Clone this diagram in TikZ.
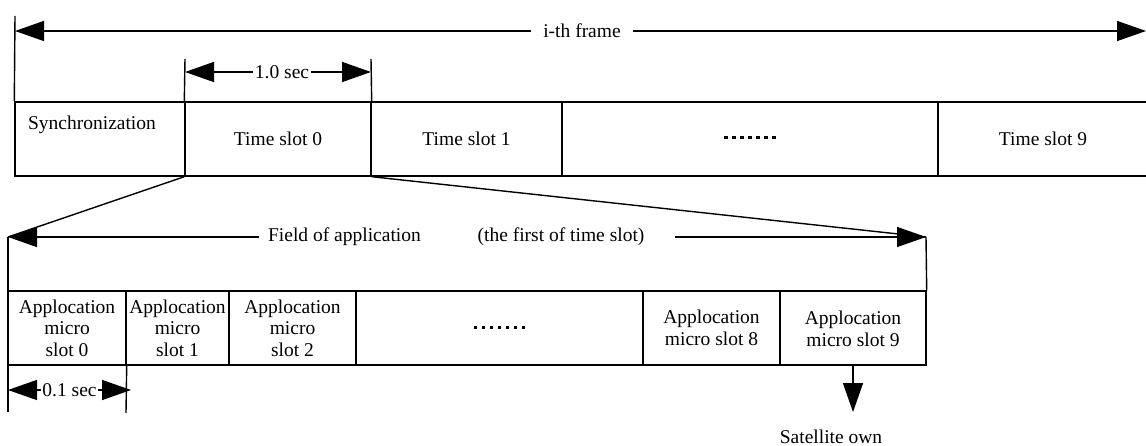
\documentclass[tikz,border=0pt]{standalone}
\usepackage{fontspec}
\setmainfont{Liberation Serif}
\usetikzlibrary{arrows.meta}
\begin{document}
\begin{tikzpicture}[x=1pt,y=-1pt,line width=1.4pt,
  tip/.style={-{Triangle[length=29pt,width=20pt]}},
  cell/.style={draw,rectangle,inner sep=0pt,minimum height=74pt,align=center,
    font=\fontsize{19.5}{21.5}\selectfont},
  lbl/.style={inner sep=0pt,font=\fontsize{19.5}{21.5}\selectfont}]
\newcommand{\sqdot}{\rule{3.6pt}{3.6pt}}
\newcommand{\dotrow}{\sqdot\hspace{4.4pt}\sqdot\hspace{4.4pt}\sqdot\hspace{4.4pt}\sqdot\hspace{4.4pt}\sqdot\hspace{4.4pt}\sqdot\hspace{4.4pt}\sqdot}
\useasboundingbox (0,0) rectangle (1146,446);

% frame: synchronization field and ten time slots
\node[cell,minimum width=170pt] (sync) at (100,139) {};
\node[lbl] (synctext) at (92,125) {Synchronization};
\node[cell,minimum width=186pt] (ts0) at (278,139) {Time slot 0};
\node[cell,minimum width=191pt] (ts1) at (466.5,139) {Time slot 1};
\node[cell,minimum width=376pt] (tsdots) at (750,139) {\raisebox{3pt}{\dotrow}};
\node[cell,minimum width=210pt] (ts9) at (1043,139) {Time slot 9};

% frame length
\coordinate (fTop) at (15,16);
\coordinate (fL) at (15,31);
\coordinate (fR) at (1146,31);
\node[lbl,inner xsep=12pt] (frame) at (582,31) {i-th frame};
\draw (fTop) -- (sync.north west);
\draw[tip] (frame.west) -- (fL);
\draw[tip] (frame.east) -- (fR);

% slot length
\coordinate (sLtop) at (185,59);
\coordinate (sRtop) at (371,59);
\coordinate (sL) at (185,72);
\coordinate (sR) at (371,72);
\node[lbl,inner xsep=1pt] (onesec) at (282,72) {1.0 sec};
\draw (sLtop) -- (ts0.north west);
\draw (sRtop) -- (ts0.north east);
\draw[tip] (onesec.west) -- (sL);
\draw[tip] (onesec.east) -- (sR);

% application field of time slot 0
\node[cell,minimum width=118pt] (m0) at (67,328) {Applocation\\micro\\slot 0};
\node[cell,minimum width=103pt] (m1) at (177.5,328) {Applocation\\micro\\slot 1};
\node[cell,minimum width=127pt] (m2) at (292.5,328) {Applocation\\micro\\slot 2};
\node[cell,minimum width=287pt] (mdots) at (499.5,328) {\raisebox{1pt}{\dotrow}};
\node[cell,minimum width=137pt] (m8) at (711.5,328) {Applocation\\micro slot 8};
\node[cell,minimum width=146pt] (m9) at (853,328) {\raisebox{-3pt}[\height][\depth]{\begin{tabular}{@{}c@{}}Applocation\\micro slot 9\end{tabular}}};

\coordinate (aL) at (8,237);
\coordinate (aR) at (926,237);
\coordinate (bL) at (8,412);
\draw (ts0.south west) -- (aL);
\draw (ts0.south east) -- (aR);
\node[lbl,inner xsep=8pt] (field) at (344.5,237) {Field of application};
\node[lbl,inner xsep=30pt] (first) at (561,237) {(the first of time slot)};
\draw[tip] (field.west) -- (aL);
\draw[tip] (first.east) -- (aR);
\draw (aL) -- (bL);
\draw (aR) -- (m9.north east);

% micro slot length
\coordinate (tRb) at (126,413);
\coordinate (tL) at (8,390);
\coordinate (tR) at (131,390);
\node[lbl,inner xsep=1pt] (tenth) at (69.5,390) {0.1 sec};
\draw (m0.south east) -- (tRb);
\draw[tip] (tenth.west) -- (tL);
\draw[tip] (tenth.east) -- (tR);

% output of the last micro slot
\coordinate (sat) at (853,412);
\draw[tip] (m9.south) -- (sat);
\node[lbl] (own) at (831,437) {Satellite own};
\end{tikzpicture}
\end{document}
